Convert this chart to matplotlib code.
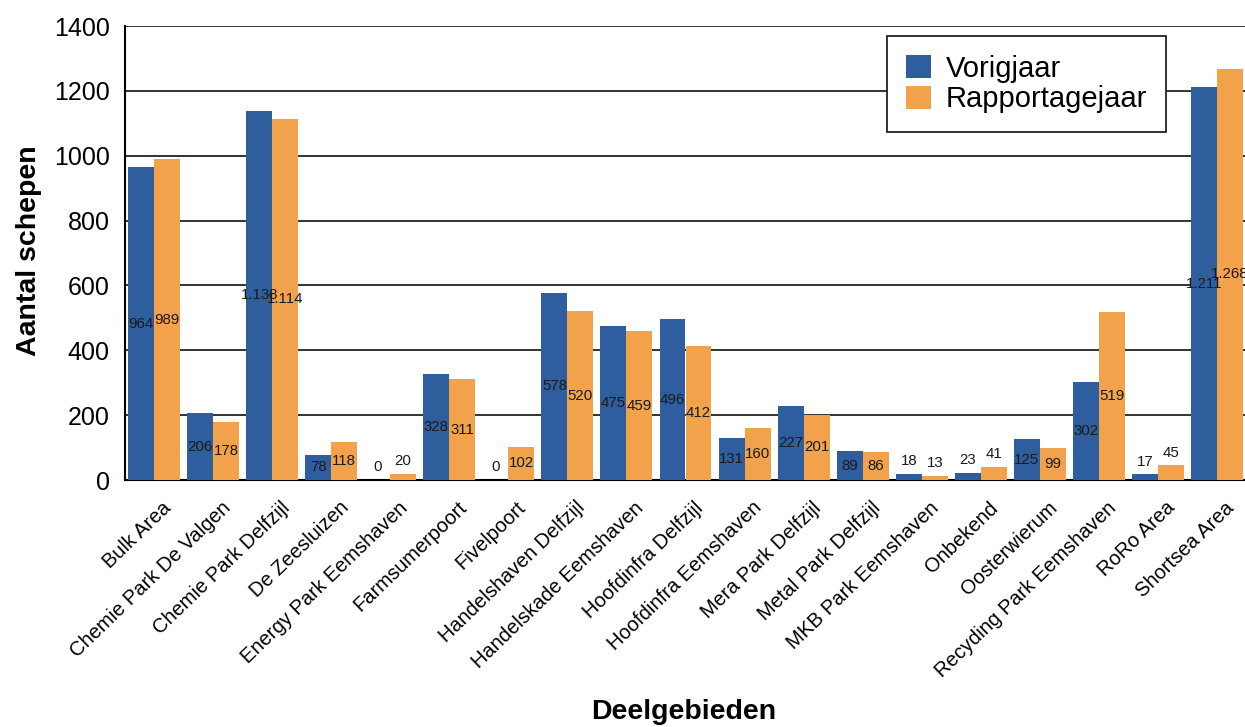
import matplotlib
matplotlib.use("Agg")
import matplotlib.pyplot as plt
import matplotlib.transforms as mtransforms
import numpy as np

plt.rcParams['font.family'] = ['Liberation Sans', 'DejaVu Sans']

categories = ["Bulk Area", "Chemie Park De Valgen", "Chemie Park Delfzijl", "De Zeesluizen",
              "Energy Park Eemshaven", "Farmsumerpoort", "Fivelpoort", "Handelshaven Delfzijl",
              "Handelskade Eemshaven", "Hoofdinfra Delfzijl", "Hoofdinfra Eemshaven",
              "Mera Park Delfzijl", "Metal Park Delfzijl", "MKB Park Eemshaven", "Onbekend",
              "Oosterwierum", "Recyding Park Eemshaven", "RoRo Area", "Shortsea Area"]
vorigjaar = [964, 206, 1138, 78, 0, 328, 0, 578, 475, 496, 131, 227, 89, 18, 23, 125, 302, 17, 1211]
rapportagejaar = [989, 178, 1114, 118, 20, 311, 102, 520, 459, 412, 160, 201, 86, 13, 41, 99, 519, 45, 1268]
series_names = ["Vorigjaar", "Rapportagejaar"]
yticks = [0, 200, 400, 600, 800, 1000, 1200, 1400]

c_blue = "#2F5E9E"
c_orange = "#F2A24B"

W, H = 1245, 727
fig = plt.figure(figsize=(W / 100, H / 100), dpi=100)
ax_l, ax_t, ax_b, ax_r = 125, 26, 480, 1246
ax = fig.add_axes([ax_l / W, 1 - ax_b / H, (ax_r - ax_l) / W, (ax_b - ax_t) / H])

x = np.arange(len(categories))
bw = 0.44
b1 = ax.bar(x - bw / 2, vorigjaar, bw, color=c_blue, label=series_names[0], zorder=3)
b2 = ax.bar(x + bw / 2, rapportagejaar, bw, color=c_orange, label=series_names[1], zorder=3)

def fmt(v):
    return f"{v:,}".replace(",", ".")

for bars, vals in ((b1, vorigjaar), (b2, rapportagejaar)):
    for rect, v in zip(bars, vals):
        cx = rect.get_x() + rect.get_width() / 2
        if v < 60:
            ax.text(cx, v + 18, fmt(v), ha='center', va='bottom', fontsize=10.8,
                    color='#1a1a1a', zorder=4)
        else:
            ax.text(cx, v / 2, fmt(v), ha='center', va='center', fontsize=10.8,
                    color='#1a1a1a', zorder=4)

ax.set_ylim(0, 1400)
ax.set_xlim(-0.49, 18.49)
ax.set_yticks(yticks)
ax.set_yticklabels([str(t) for t in yticks], fontsize=18)
ax.yaxis.grid(True, color='#222222', linewidth=1.3, zorder=1)
ax.set_axisbelow(True)

ax.set_xticks(x)
ax.set_xticklabels(categories, rotation=44, ha='right', rotation_mode='anchor', fontsize=14.5)
ax.tick_params(axis='x', length=0, pad=13)
ax.tick_params(axis='y', length=0, pad=11)
offset = mtransforms.ScaledTranslation(8 / 100, 0, fig.dpi_scale_trans)
for lbl in ax.get_xticklabels():
    lbl.set_transform(lbl.get_transform() + offset)

for s in ['top', 'right']:
    ax.spines[s].set_visible(False)
ax.spines['left'].set_linewidth(1.5)
ax.spines['bottom'].set_linewidth(1.5)
ax.spines['bottom'].set_zorder(2)

ax.set_ylabel("Aantal schepen", fontsize=20.5, fontweight='bold')
ax.yaxis.set_label_coords((42 - ax_l) / (ax_r - ax_l), (ax_b - 251) / (ax_b - ax_t))
ax.set_xlabel("Deelgebieden", fontsize=20.5, fontweight='bold')
ax.xaxis.set_label_coords((684 - ax_l) / (ax_r - ax_l), (ax_b - 699) / (ax_b - ax_t))

leg = ax.legend(loc='upper right',
                bbox_to_anchor=((1166 - ax_l) / (ax_r - ax_l), (ax_b - 36) / (ax_b - ax_t)),
                fontsize=21, frameon=True, fancybox=False, edgecolor='#222222', framealpha=1,
                handlelength=0.85, handleheight=0.85, handletextpad=0.5,
                borderpad=0.65, labelspacing=0.08, borderaxespad=0)
leg.get_frame().set_linewidth(1.3)
leg._legend_box.align = "left"
leg.borderpad = 0.65

fig.savefig("out.png", dpi=100)
